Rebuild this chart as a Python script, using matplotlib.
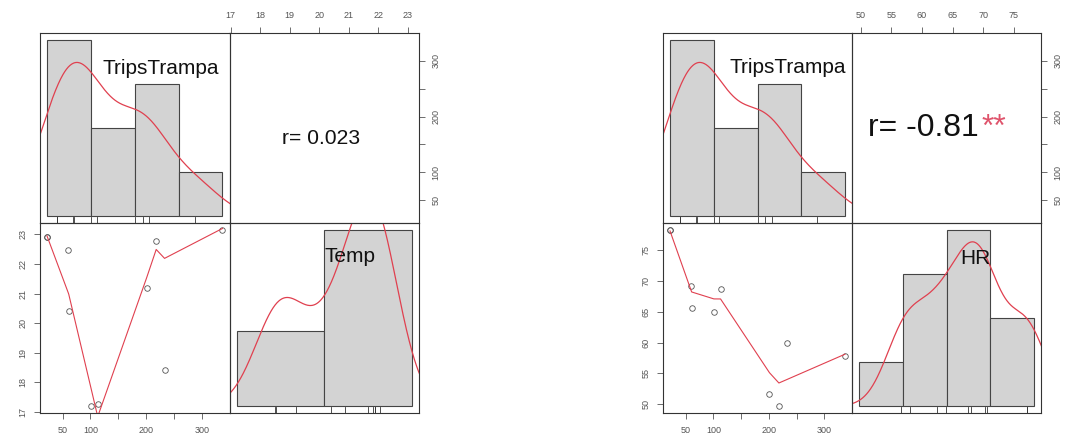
import numpy as np
import matplotlib
matplotlib.use("Agg")
import matplotlib.pyplot as plt

# ---------------- data ----------------
trips = [22, 22, 60, 61, 101, 113, 201, 218, 233, 337]
temp = [22.9, 22.9, 22.47, 20.4, 17.2, 17.27, 21.2, 22.77, 18.4, 23.15]
hr = [78.3, 78.3, 69.2, 65.7, 65.0, 68.7, 51.7, 49.7, 59.9, 57.8]

trips_breaks = [0, 100, 200, 300, 400]
temp_breaks = [15, 20, 25]
hr_breaks = [40, 50, 60, 70, 80]

trips_ticks = [50, 100, 150, 200, 250, 300]
trips_ticklabels = ["50", "100", "", "200", "", "300"]
temp_ticks = [17, 18, 19, 20, 21, 22, 23]
temp_ticklabels = ["17", "18", "19", "20", "21", "22", "23"]
hr_ticks = [50, 55, 60, 65, 70, 75]
hr_ticklabels = ["50", "55", "60", "65", "70", "75"]

names = ["TripsTrampa", "Temp", "HR"]
r_labels = ["r= 0.023", "r= -0.81"]
r_stars = ["", "**"]

# ---------------- helpers ----------------
W, H = 1068, 444
BOX = "#333333"
TICKC = "#555555"
RED = "#e0404f"
FONT = "Liberation Sans"
plt.rcParams["font.family"] = [FONT, "DejaVu Sans"]


def lowest(x, y, n, xs, nleft, nright, userw, rw):
    rng = x[-1] - x[0]
    h = max(xs - x[nleft], x[nright] - xs)
    h9, h1 = 0.999 * h, 0.001 * h
    w = np.zeros(n)
    a = 0.0
    j = nleft
    while j < n:
        r = abs(x[j] - xs)
        if r <= h9:
            w[j] = 1.0 if r <= h1 else (1 - (r / h) ** 3) ** 3
            if userw:
                w[j] *= rw[j]
            a += w[j]
        elif x[j] > xs:
            break
        j += 1
    nrt = j - 1
    if a <= 0:
        return 0.0, False
    w[nleft:nrt + 1] /= a
    if h > 0:
        aa = np.sum(w[nleft:nrt + 1] * x[nleft:nrt + 1])
        b = xs - aa
        c = np.sum(w[nleft:nrt + 1] * (x[nleft:nrt + 1] - aa) ** 2)
        if np.sqrt(c) > 0.001 * rng:
            b /= c
            w[nleft:nrt + 1] *= (b * (x[nleft:nrt + 1] - aa) + 1)
    return float(np.sum(w[nleft:nrt + 1] * y[nleft:nrt + 1])), True


def lowess(x, y, f=2 / 3, nsteps=3):
    x = np.asarray(x, float)
    y = np.asarray(y, float)
    o = np.argsort(x, kind="stable")
    x, y = x[o], y[o]
    n = len(x)
    delta = 0.01 * (x[-1] - x[0])
    ns = max(2, min(n, int(f * n + 1e-7)))
    ys = np.zeros(n)
    rw = np.ones(n)
    it = 1
    while it <= nsteps + 1:
        nleft, nright, last, i = 0, ns - 1, -1, 0
        while True:
            if nright < n - 1:
                d1 = x[i] - x[nleft]
                d2 = x[nright + 1] - x[i]
                if d1 > d2:
                    nleft += 1
                    nright += 1
                    continue
            val, ok = lowest(x, y, n, x[i], nleft, nright, it > 1, rw)
            ys[i] = val if ok else y[i]
            if last < i - 1:
                denom = x[i] - x[last]
                for j in range(last + 1, i):
                    al = (x[j] - x[last]) / denom
                    ys[j] = al * ys[i] + (1 - al) * ys[last]
            last = i
            cut = x[last] + delta
            i = last + 1
            while i < n:
                if x[i] > cut:
                    break
                if x[i] == x[last]:
                    ys[i] = ys[last]
                    last = i
                i += 1
            i = max(last + 1, i - 1)
            if last >= n - 1:
                break
        res = y - ys
        sc = np.mean(np.abs(res))
        if it > nsteps:
            break
        r = np.abs(res)
        srt = np.sort(r)
        m1 = n // 2
        if n % 2 == 0:
            m2 = n - m1 - 1
            cmad = 3.0 * (srt[m1] + srt[m2])
        else:
            cmad = 6.0 * srt[m1]
        if cmad < 1e-7 * sc:
            break
        c9, c1 = 0.999 * cmad, 0.001 * cmad
        rw = np.where(r <= c1, 1.0, np.where(r <= c9, (1 - (r / cmad) ** 2) ** 2, 0.0))
        it += 1
    return x, ys


def density(v):
    v = np.asarray(v, float)
    n = len(v)
    sd = np.std(v, ddof=1)
    iqr = np.percentile(v, 75) - np.percentile(v, 25)
    lo = min(sd, iqr / 1.34)
    bw = 0.9 * lo * n ** (-0.2)
    gx = np.linspace(v.min() - 3 * bw, v.max() + 3 * bw, 512)
    gy = np.exp(-0.5 * ((gx[:, None] - v[None, :]) / bw) ** 2).sum(1) / (n * bw * np.sqrt(2 * np.pi))
    return gx, gy


def ext(lo, hi):
    d = (hi - lo) * 0.04
    return lo - d, hi + d


def cell(fig, x0, y0, w, h):
    ax = fig.add_axes([x0 / W, 1 - (y0 + h) / H, w / W, h / H])
    for s in ax.spines.values():
        s.set_color(BOX)
        s.set_linewidth(0.8)
    ax.tick_params(length=4, width=0.6, color=TICKC, labelcolor=TICKC,
                   labelsize=6.5, pad=5)
    ax.set_facecolor("none")
    return ax


def hist_cell(ax, vals, breaks, label, lab_pos):
    vals = np.asarray(vals, float)
    counts, _ = np.histogram(vals, bins=breaks)
    # right-closed intervals as in R
    counts = np.array([np.sum((vals > breaks[k]) & (vals <= breaks[k + 1])) +
                       (np.sum(vals == breaks[0]) if k == 0 else 0)
                       for k in range(len(breaks) - 1)])
    widths = np.diff(breaks)
    dens = counts / (len(vals) * widths)
    ax.bar(breaks[:-1], dens, width=widths, align="edge", color="#d3d3d3",
           edgecolor="#444444", linewidth=0.8)
    gx, gy = density(vals)
    ax.plot(gx, gy, color=RED, lw=0.9)
    ax.set_xlim(*ext(breaks[0], breaks[-1]))
    ax.set_ylim(*ext(0, dens.max()))
    ax.plot(vals, np.zeros_like(vals), linestyle="none", marker="|",
            markersize=0, color="#222222")
    # rug: short inward ticks at the bottom edge
    for v in vals:
        ax.plot([v, v], [0, 0.03], transform=ax.get_xaxis_transform(),
                color="#333333", lw=0.6)
    ax.set_xticks([])
    ax.set_yticks([])
    ax.text(lab_pos[0], lab_pos[1], label, transform=ax.transAxes,
            ha="center", va="baseline", fontsize=15, color="#111111")


def panel(fig, x0, y0, cw, ch, other, other_breaks, other_ticks, other_labels,
          name2, r_text, stars, r_size, r_pos, lab1, lab2):
    tx = ext(min(trips), max(trips))
    oy = ext(min(other), max(other))
    # diag 1
    a11 = cell(fig, x0, y0, cw, ch)
    hist_cell(a11, trips, trips_breaks, names[0], lab1)
    # upper: correlation
    a12 = cell(fig, x0 + cw, y0, cw, ch)
    a12.set_xlim(*oy)
    a12.set_ylim(*tx)
    a12.xaxis.set_ticks_position("top")
    a12.yaxis.set_ticks_position("right")
    a12.set_xticks(other_ticks)
    a12.set_xticklabels(other_labels)
    a12.set_yticks(trips_ticks)
    a12.set_yticklabels(trips_ticklabels, rotation=90, va="center")
    t = a12.text(r_pos[0], r_pos[1], r_text, transform=a12.transAxes,
                 ha="left", va="baseline", fontsize=r_size, color="#111111")
    if stars:
        a12.annotate(stars, xy=(1, 0), xycoords=t, xytext=(2, 0),
                     textcoords="offset points", ha="left", va="bottom",
                     fontsize=r_size, color="#df536b")
    # lower: scatter + lowess
    a21 = cell(fig, x0, y0 + ch, cw, ch)
    a21.set_xlim(*tx)
    a21.set_ylim(*oy)
    a21.plot(trips, other, linestyle="none", marker="o", markersize=4,
             markerfacecolor="none", markeredgecolor="#555555", markeredgewidth=0.6)
    lx, ly = lowess(trips, other)
    a21.plot(lx, ly, color=RED, lw=0.8)
    a21.set_xticks(trips_ticks)
    a21.set_xticklabels(trips_ticklabels)
    a21.set_yticks(other_ticks)
    a21.set_yticklabels(other_labels, rotation=90, va="center")
    # diag 2
    a22 = cell(fig, x0 + cw, y0 + ch, cw, ch)
    hist_cell(a22, other, other_breaks, name2, lab2)


fig = plt.figure(figsize=(W / 100, H / 100), dpi=100)
fig.patch.set_facecolor("white")

panel(fig, 40, 33, 189.5, 190, temp, temp_breaks, temp_ticks, temp_ticklabels,
      names[1], r_labels[0], r_stars[0], 15.2, (0.275, 0.414),
      (0.637, 0.785), (0.637, 0.797))
panel(fig, 663, 33, 189, 190, hr, hr_breaks, hr_ticks, hr_ticklabels,
      names[2], r_labels[1], r_stars[1], 23, (0.087, 0.457),
      (0.66, 0.79), (0.653, 0.783))

fig.savefig("out.png", dpi=100)
